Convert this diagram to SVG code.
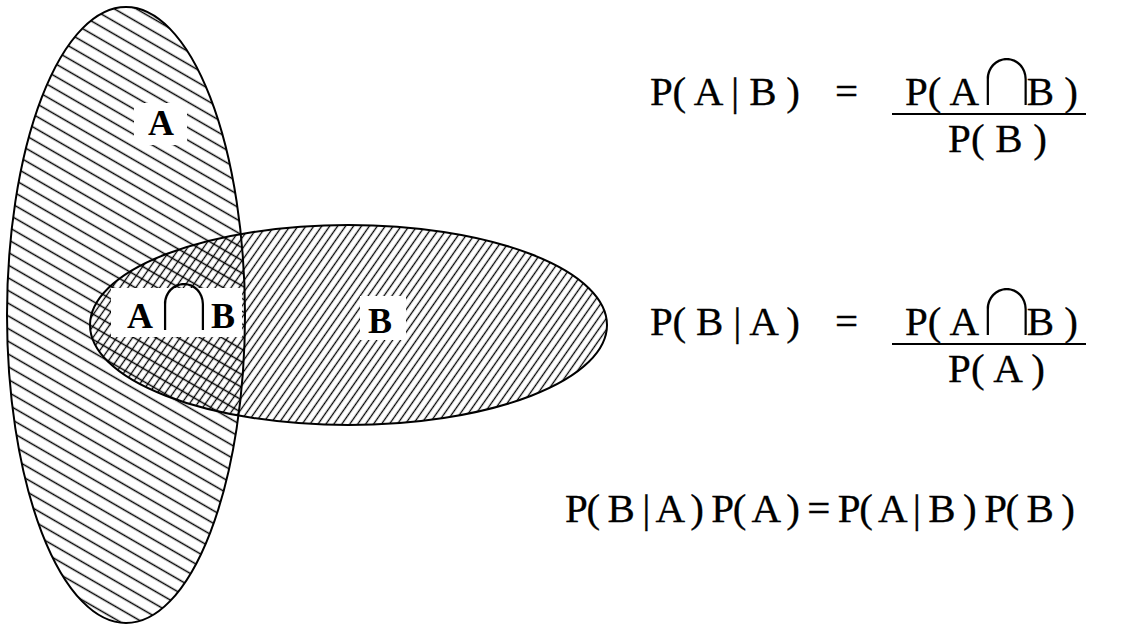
<svg xmlns="http://www.w3.org/2000/svg" width="1129" height="626" viewBox="0 0 1129 626">
<style>
.f{font-family:"Liberation Serif","Times New Roman",serif;font-size:41px;fill:#000;stroke:#000;stroke-width:0.3}
.lbl{font-family:"Liberation Serif","Times New Roman",serif;font-size:36px;font-weight:bold;fill:#000}
.cap{font-family:"Noto Sans CJK JP","DejaVu Sans",sans-serif;font-weight:100;font-size:62px;stroke:none}
.outline{fill:none;stroke:#000;stroke-width:2}
.bar{stroke:#000;stroke-width:2}
.box{fill:#fff}
</style>
<defs>
<pattern id="hatchA" width="12" height="11" patternUnits="userSpaceOnUse" patternTransform="rotate(30)">
<line x1="0" y1="5.5" x2="12" y2="5.5" stroke="#000" stroke-width="1.5"/>
</pattern>
<pattern id="hatchB" width="6.5" height="6.5" patternUnits="userSpaceOnUse" patternTransform="rotate(-55)">
<line x1="0" y1="3.25" x2="6.5" y2="3.25" stroke="#000" stroke-width="1.3"/>
</pattern>
<clipPath id="clipA"><ellipse cx="126" cy="315" rx="119" ry="308"/></clipPath>
</defs>
<rect width="1129" height="626" fill="#fff"/>
<g id="set-a">
<ellipse cx="126" cy="315" rx="119" ry="308" fill="#fff"/>
<ellipse cx="126" cy="315" rx="119" ry="308" fill="url(#hatchA)"/>
</g>
<g id="set-b">
<ellipse cx="348.5" cy="325" rx="258.5" ry="100" fill="#fff"/>
<ellipse cx="348.5" cy="325" rx="258.5" ry="100" fill="url(#hatchB)"/>
</g>
<g id="intersection" clip-path="url(#clipA)">
<ellipse cx="348.5" cy="325" rx="258.5" ry="100" fill="url(#hatchA)"/>
</g>
<g id="outlines">
<ellipse class="outline" cx="126" cy="315" rx="119" ry="308"/>
<ellipse class="outline" cx="348.5" cy="325" rx="258.5" ry="100"/>
</g>
<g id="connectors"/>
<g id="label-a">
<rect class="box" x="134" y="103" width="53" height="42"/>
<text class="lbl" x="148" y="135" font-size="35">A</text>
</g>
<g id="label-ab">
<rect class="box" x="111" y="288" width="131" height="49"/>
<text class="lbl" x="127" y="328">A<tspan class="cap" dy="2" letter-spacing="-4" font-size="58">∩</tspan><tspan dy="-2">B</tspan></text>
</g>
<g id="label-b">
<rect class="box" x="360" y="296" width="46" height="44"/>
<text class="lbl" x="368" y="333">B</text>
</g>
<g id="formula-1">
<text class="f" x="650" y="105" textLength="150" lengthAdjust="spacing">P( A | B )</text>
<text class="f" x="835" y="105">=</text>
<text class="f" x="905" y="105">P( A<tspan class="cap" dx="-3.3" letter-spacing="-11">∩</tspan>B )</text>
<line class="bar" x1="892" y1="114" x2="1086" y2="114"/>
<text class="f" x="948" y="152" textLength="99" lengthAdjust="spacing">P( B )</text>
</g>
<g id="formula-2">
<text class="f" x="650" y="335" textLength="150" lengthAdjust="spacing">P( B | A )</text>
<text class="f" x="835" y="335">=</text>
<text class="f" x="905" y="335">P( A<tspan class="cap" dx="-3.3" letter-spacing="-11">∩</tspan>B )</text>
<line class="bar" x1="892" y1="344" x2="1086" y2="344"/>
<text class="f" x="948" y="382" textLength="97" lengthAdjust="spacing">P( A )</text>
</g>
<g id="formula-3">
<text class="f" x="565" y="522" textLength="510" lengthAdjust="spacing">P( B | A ) P( A ) = P( A | B ) P( B )</text>
</g>
</svg>
